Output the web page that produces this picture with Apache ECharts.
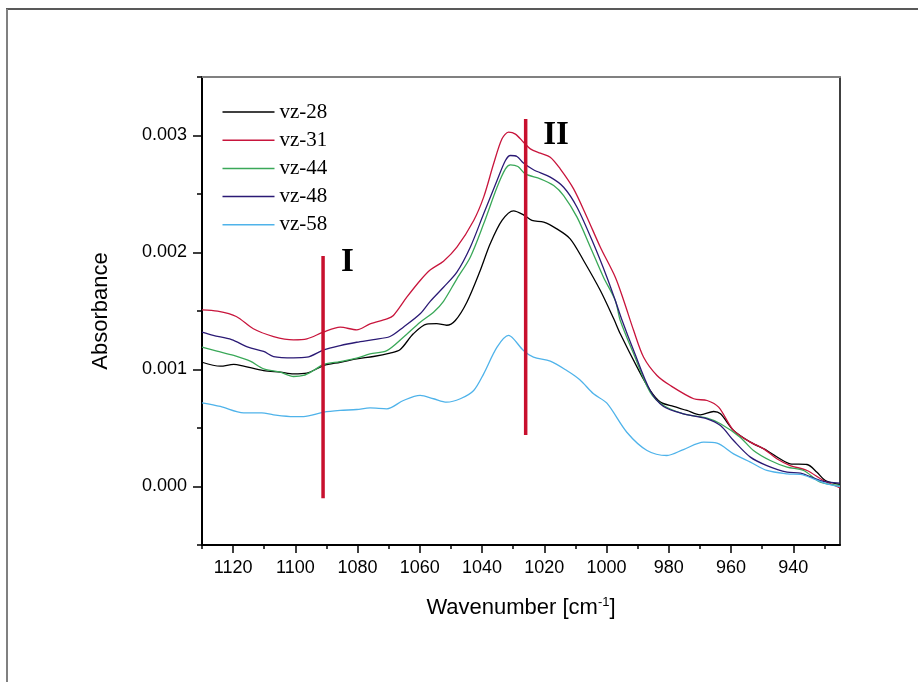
<!DOCTYPE html>
<html>
<head>
<meta charset="utf-8">
<script src="https://cdn.jsdelivr.net/npm/echarts@6/dist/echarts.min.js"></script>
<style>html,body{margin:0;padding:0;background:#fff}#c{width:918px;height:682px}</style>
</head>
<body>
<div id="c"></div>
<script>
// Series data: [wavenumber (cm-1), absorbance]
const vz28 = [[1130,0.001062],[1124.1,0.001028],[1119.8,0.001043],[1116.6,0.001028],[1110.2,0.000991],[1104.8,0.000977],[1100.6,0.000963],[1096.3,0.000969],[1090.9,0.001034],[1085.6,0.001062],[1080.3,0.001091],[1074.9,0.001111],[1069.6,0.001140],[1066.4,0.001168],[1062.1,0.001305],[1057.8,0.001388],[1054.6,0.001392],[1051.4,0.001378],[1048.6,0.001419],[1044.9,0.001575],[1040.6,0.001846],[1037.4,0.002074],[1033.6,0.002274],[1029.9,0.002356],[1026.7,0.002322],[1024,0.002274],[1020.2,0.002259],[1016,0.002202],[1011.7,0.002117],[1007.4,0.001932],[1002,0.001675],[997.7,0.001433],[995.6,0.001305],[990.2,0.001020],[986,0.000821],[982.7,0.000721],[978.5,0.000684],[974.2,0.000650],[969.9,0.000613],[965.6,0.000641],[963.4,0.000621],[959.2,0.000479],[953.8,0.000379],[948.5,0.000308],[944.3,0.000237],[941,0.000194],[935.6,0.000188],[932.4,0.000122],[929.7,0.000051],[925,0.000017]];
const vz31 = [[1130,0.001510],[1125,0.001498],[1119,0.001453],[1113.5,0.001348],[1107,0.001282],[1100.6,0.001254],[1096.3,0.001262],[1091,0.001319],[1085.6,0.001362],[1080.3,0.001339],[1076,0.001390],[1070.6,0.001433],[1068.5,0.001462],[1064.2,0.001618],[1059.9,0.001761],[1056.6,0.001852],[1052.4,0.001926],[1048.1,0.002045],[1042.7,0.002274],[1039.5,0.002473],[1036.3,0.002758],[1033.6,0.002972],[1031.5,0.003028],[1029.3,0.003012],[1026.7,0.002943],[1024.5,0.002886],[1021.3,0.002849],[1018.1,0.002815],[1014.9,0.002715],[1010.6,0.002544],[1006.3,0.002302],[1002,0.002045],[997.2,0.001789],[994.5,0.001590],[991.3,0.001333],[988.1,0.001105],[983.8,0.000949],[979.5,0.000863],[972,0.000750],[967.7,0.000735],[964,0.000678],[959.2,0.000479],[953.8,0.000379],[949.5,0.000322],[945.3,0.000237],[941,0.000179],[935.6,0.000137],[930.3,0.000051],[925,-0.000011]];
const vz44 = [[1130,0.001191],[1125.2,0.001157],[1119.8,0.001120],[1114.5,0.001071],[1110.2,0.001006],[1104.8,0.000977],[1100.6,0.000940],[1097.4,0.000949],[1094.2,0.000991],[1090.9,0.001043],[1085.6,0.001068],[1080.3,0.001097],[1076,0.001134],[1070.6,0.001162],[1065.3,0.001276],[1059.9,0.001404],[1055.6,0.001490],[1052.4,0.001583],[1048.1,0.001775],[1043.8,0.001960],[1039.5,0.002245],[1035.2,0.002558],[1032.5,0.002715],[1030.9,0.002749],[1028.5,0.002735],[1026.1,0.002672],[1021.3,0.002630],[1017,0.002573],[1013.8,0.002487],[1009.5,0.002302],[1005.2,0.002045],[1001,0.001789],[997.2,0.001590],[995.6,0.001419],[991.3,0.001134],[986,0.000806],[981.7,0.000692],[975.3,0.000621],[967.7,0.000584],[963.4,0.000536],[957.1,0.000421],[952.8,0.000308],[947.4,0.000222],[942,0.000165],[936.7,0.000137],[931.3,0.000037],[925,0.000009]];
const vz48 = [[1130,0.001319],[1126.4,0.001291],[1120.5,0.001256],[1115.2,0.001191],[1110.2,0.001154],[1107,0.001111],[1100.6,0.001100],[1096.3,0.001105],[1090.9,0.001168],[1085.6,0.001205],[1080.3,0.001233],[1074.9,0.001256],[1069.6,0.001282],[1065.3,0.001362],[1059.9,0.001476],[1056.6,0.001585],[1052.4,0.001703],[1048.1,0.001832],[1043.8,0.002045],[1039.5,0.002331],[1035.2,0.002615],[1032.5,0.002786],[1030.9,0.002829],[1028.8,0.002821],[1026.7,0.002764],[1023.5,0.002707],[1018.1,0.002644],[1013.8,0.002558],[1009.5,0.002387],[1004.2,0.002074],[999.9,0.001789],[997.2,0.001590],[995,0.001419],[991.3,0.001162],[986,0.000821],[981.7,0.000684],[975.3,0.000621],[967.7,0.000579],[963.4,0.000521],[959.2,0.000393],[953.8,0.000251],[948.5,0.000179],[942,0.000122],[937.7,0.000114],[931.3,0.000051],[925,0.000028]];
const vz58 = [[1130,0.000715],[1124.1,0.000684],[1116.6,0.000630],[1110.8,0.000630],[1107,0.000613],[1100.6,0.000598],[1097.4,0.000598],[1090.9,0.000635],[1085.6,0.000650],[1080.3,0.000658],[1076,0.000672],[1070.6,0.000664],[1065.3,0.000735],[1059.9,0.000778],[1055.6,0.000750],[1051.4,0.000721],[1047,0.000750],[1042.7,0.000821],[1039.5,0.000963],[1035.2,0.001191],[1031.5,0.001291],[1029.9,0.001262],[1026.7,0.001162],[1023.5,0.001105],[1018.1,0.001071],[1012.8,0.000991],[1008.6,0.000912],[1004.2,0.000792],[999.9,0.000712],[993.5,0.000464],[987,0.000308],[980.6,0.000265],[975.3,0.000316],[968.8,0.000379],[964.5,0.000370],[959.2,0.000279],[953.8,0.000208],[948.5,0.000137],[942,0.000108],[937.7,0.000103],[933.5,0.000066],[929.2,0.000023],[925,0.000000]];

// Band markers I and II: [wavenumber, top, bottom]
const bandI = [1091.1, 0.00197, -0.0001];
const bandII = [1026.0, 0.00314, 0.00044];

const seriesNames = ['vz-28','vz-31','vz-44','vz-48','vz-58'];
const seriesColors = ['#000000','#c8153c','#3aa858','#2b1a75','#4fb3ea'];
const seriesData = [vz28, vz31, vz44, vz48, vz58];

const xMajorTicks = [1120,1100,1080,1060,1040,1020,1000,980,960,940];
const xMinorTicks = [1130,1110,1090,1070,1050,1030,1010,990,970,950,930];
const yMajorTicks = [0,0.001,0.002,0.003];
const yMinorTicks = [-0.0005,0.0005,0.0015,0.0025,0.0035];

const chart = echarts.init(document.getElementById('c'));
const sans = 'Liberation Sans, Arial, sans-serif';
const serif = 'Liberation Serif, Times New Roman, serif';

const series = seriesData.map((d, i) => ({
  name: seriesNames[i], type: 'line', data: d, symbol: 'none', smooth: 0.3,
  lineStyle: { color: seriesColors[i], width: 1.3 }, itemStyle: { color: seriesColors[i] },
  xAxisIndex: 0, yAxisIndex: 0, z: 3
}));
[bandI, bandII].forEach(b => {
  series.push({
    type: 'line', data: [[b[0], b[1]], [b[0], b[2]]], symbol: 'none', silent: true,
    lineStyle: { color: '#c8102e', width: 3.5 }, xAxisIndex: 0, yAxisIndex: 0, z: 5
  });
});

chart.setOption({
  animation: false,
  backgroundColor: '#fff',
  grid: { left: 202, right: 78, top: 77, bottom: 137, containLabel: false },
  legend: {
    data: seriesNames.map(n => ({ name: n, icon: 'rect' })), orient: 'vertical', left: 217.5, top: 96.5,
    itemWidth: 52, itemHeight: 1.5, itemGap: 7.2,
    textStyle: { fontFamily: serif, fontSize: 21, color: '#000', lineHeight: 21 }
  },
  xAxis: [
    { type: 'value', inverse: true, min: 925, max: 1130, position: 'bottom',
      axisLine: { onZero: false, lineStyle: { color: '#000', width: 2 } },
      axisTick: { customValues: xMajorTicks, length: 8, lineStyle: { color: '#000', width: 1.5 } },
      axisLabel: { customValues: xMajorTicks, margin: 14, fontFamily: sans, fontSize: 18, color: '#000', formatter: v => String(v) },
      splitLine: { show: false },
      name: '{n|Wavenumber [cm}{s|-1}{n|]}', nameLocation: 'middle', nameGap: 51,
      nameTextStyle: { rich: { n: { fontFamily: sans, fontSize: 22, color: '#000', verticalAlign: 'bottom' }, s: { fontFamily: sans, fontSize: 13, color: '#000', verticalAlign: 'top', padding: [0,0,10,0] } } }
    },
    { type: 'value', inverse: true, min: 925, max: 1130, position: 'bottom',
      axisLine: { show: false, onZero: false },
      axisTick: { customValues: xMinorTicks, length: 4, lineStyle: { color: '#000', width: 1.5 } },
      axisLabel: { show: false }, splitLine: { show: false }
    },
    { type: 'value', inverse: true, min: 925, max: 1130, position: 'top',
      axisLine: { onZero: false, lineStyle: { color: '#808080', width: 2 } },
      axisTick: { show: false }, axisLabel: { show: false }, splitLine: { show: false }
    }
  ],
  yAxis: [
    { type: 'value', min: -0.0005, max: 0.0035, position: 'left',
      axisLine: { onZero: false, lineStyle: { color: '#000', width: 2 } },
      axisTick: { customValues: yMajorTicks, length: 9, lineStyle: { color: '#000', width: 1.5 } },
      axisLabel: { customValues: yMajorTicks, margin: 15, fontFamily: sans, fontSize: 18, color: '#000',
        formatter: v => v.toFixed(3) },
      splitLine: { show: false },
      name: 'Absorbance', nameLocation: 'middle', nameGap: 90,
      nameTextStyle: { fontFamily: sans, fontSize: 22, color: '#000' }
    },
    { type: 'value', min: -0.0005, max: 0.0035, position: 'left',
      axisLine: { show: false, onZero: false },
      axisTick: { customValues: yMinorTicks, length: 5, lineStyle: { color: '#000', width: 1.5 } },
      axisLabel: { show: false }, splitLine: { show: false }
    },
    { type: 'value', min: -0.0005, max: 0.0035, position: 'right',
      axisLine: { onZero: false, lineStyle: { color: '#000', width: 1.5 } },
      axisTick: { show: false }, axisLabel: { show: false }, splitLine: { show: false }
    }
  ],
  graphic: [
    { type: 'line', shape: { x1: 6, y1: 9, x2: 918, y2: 9 }, style: { stroke: '#222', lineWidth: 1.5 } },
    { type: 'line', shape: { x1: 7, y1: 9, x2: 7, y2: 682 }, style: { stroke: '#808080', lineWidth: 2 } },
    { type: 'text', x: 347.5, y: 262, style: { text: 'I', font: 'bold 33px ' + serif, fill: '#000', textAlign: 'center', textVerticalAlign: 'middle' } },
    { type: 'text', x: 556, y: 135, style: { text: 'II', font: 'bold 33px ' + serif, fill: '#000', textAlign: 'center', textVerticalAlign: 'middle' } }
  ],
  series: series
});
</script>
</body>
</html>
